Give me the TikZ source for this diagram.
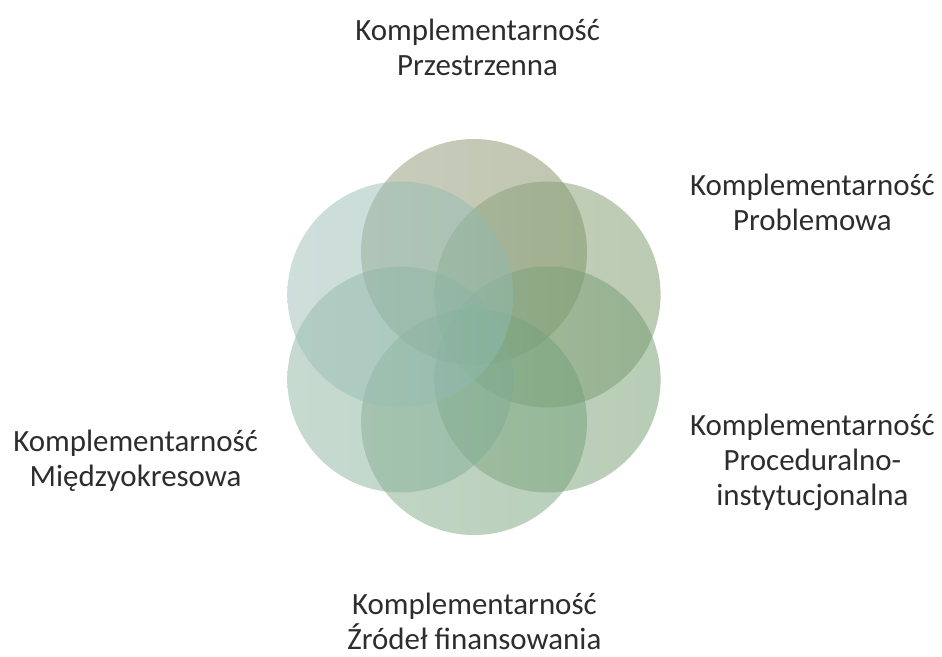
\documentclass[tikz,border=0pt]{standalone}
\usepackage{fontspec}
\setmainfont{Carlito}
\usepackage{tikz}
\definecolor{przestrzenc}{RGB}{123,133,93}
\definecolor{problemc}{RGB}{115,143,97}
\definecolor{procedc}{RGB}{107,147,103}
\definecolor{zrodlac}{RGB}{107,153,113}
\definecolor{okresc}{RGB}{119,165,141}
\definecolor{bezc}{RGB}{137,177,167}
\definecolor{tekstc}{RGB}{45,45,45}

\begin{document}
\begin{tikzpicture}[lbl/.style={align=center, text=tekstc, font=\fontsize{22}{24.9}\selectfont}]
	\def\rad{2.825}
	\def\off{2.125}
	\useasboundingbox (-11.85,-8.0) rectangle (11.7,8.425);

	\foreach \ang/\col in {90/przestrzenc,30/problemc,330/procedc,270/zrodlac,210/okresc,150/bezc}{
		\shade[fill opacity=0.5, shading angle=45, left color=\col!82!white, right color=\col!105!black] (\ang:\off) circle (\rad);
	}

	\node[lbl] (przestrzenna) at (0.09,7.25) {Komplementarność\\Przestrzenna};
	\node[lbl] (problemowa) at (8.46,3.375) {Komplementarność\\Problemowa};
	\node[lbl] (procedur) at (8.46,-3.125) {Komplementarność\\Proceduralno-\\instytucjonalna};
	\node[lbl] (zrodla) at (0.01,-7.12) {Komplementarność\\Źródeł finansowania};
	\node[lbl] (okresowa) at (-8.46,-3.1) {Komplementarność\\Międzyokresowa};
\end{tikzpicture}
\end{document}
